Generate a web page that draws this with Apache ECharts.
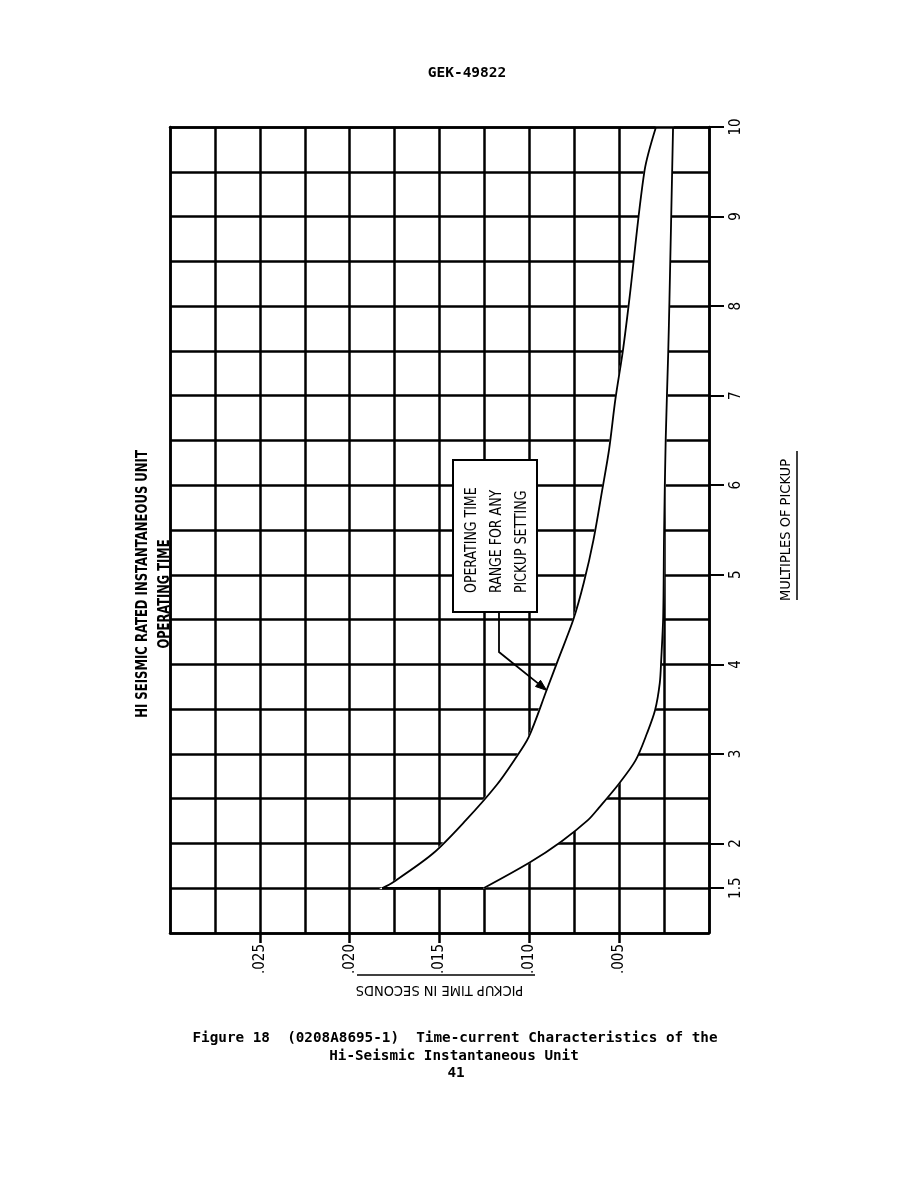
<!DOCTYPE html>
<html>
<head>
<meta charset="utf-8">
<title>GEK-49822 Figure 18</title>
<script src="https://cdn.jsdelivr.net/npm/echarts@6/dist/echarts.min.js"></script>
<style>
  html, body { margin: 0; padding: 0; background: #fff; }
  #chart { width: 918px; height: 1188px; }
</style>
</head>
<body>
<div id="chart"></div>
<script>
// ---- data ----
// tick labels
const timeTicks = [0.005, 0.010, 0.015, 0.020, 0.025];
const multipleTicks = [1.5, 2, 3, 4, 5, 6, 7, 8, 9, 10];

// slow boundary (longest operating time) : seconds vs multiples of pickup
const maxTimeSec = [0.0182, 0.01756, 0.01535, 0.01353, 0.01183, 0.01084, 0.01003, 0.00904, 0.00840, 0.00755, 0.00697, 0.00643, 0.00594, 0.00556, 0.00521, 0.00478, 0.00443, 0.00359, 0.00295];
const maxTimeMultiple = [1.50, 1.57, 1.89, 2.26, 2.65, 2.93, 3.19, 3.71, 4.05, 4.50, 4.91, 5.39, 5.95, 6.40, 6.96, 7.52, 8.08, 9.51, 10.0];

// fast boundary (shortest operating time)
const minTimeSec = [0.01255, 0.00996, 0.00823, 0.00674, 0.00612, 0.00500, 0.00408, 0.00345, 0.00300, 0.00274, 0.00266, 0.00255, 0.00250, 0.00241, 0.00227, 0.00220, 0.00200];
const minTimeMultiple = [1.50, 1.79, 2.02, 2.26, 2.40, 2.67, 2.93, 3.23, 3.49, 3.79, 4.05, 4.53, 5.47, 6.51, 7.48, 8.08, 10.0];

const annotationLines = ['OPERATING TIME', 'RANGE FOR ANY', 'PICKUP SETTING'];
const arrowTargetIndex = 7; // point of the slow curve the arrow points to

// ---- chart ----
const NARROW = '"Liberation Sans Narrow", "DejaVu Sans Condensed", "Arial Narrow", sans-serif';
const MONO = '"DejaVu Sans Mono", "Liberation Mono", monospace';
const SMOOTH = 0.3;
const GRID_W = 2.5;

const maxPairs = maxTimeSec.map((t, i) => [t, maxTimeMultiple[i]]);
const minPairs = minTimeSec.map((t, i) => [t, minTimeMultiple[i]]);

const chart = echarts.init(document.getElementById('chart'), null, { renderer: 'canvas' });

const black = '#000';
const axisLineStyle = { color: black, width: GRID_W };

const option = {
  animation: false,
  backgroundColor: '#fff',
  grid: { left: 170, right: 209, top: 127, bottom: 255, show: false, outerBoundsMode: 'none' },
  xAxis: [
    { // grid columns every .0025 s
      type: 'value', position: 'bottom', min: 0, max: 0.030, interval: 0.0025, inverse: true,
      axisLine: { show: true, onZero: false, lineStyle: axisLineStyle },
      axisTick: { show: false }, axisLabel: { show: false },
      splitLine: { show: true, lineStyle: { color: black, width: GRID_W } }
    },
    { // labelled ticks
      type: 'value', position: 'bottom', min: 0, max: 0.030, inverse: true,
      axisLine: { show: false, onZero: false },
      axisTick: { show: true, customValues: timeTicks, length: 10, inside: false, lineStyle: { color: black, width: GRID_W } },
      axisLabel: {
        show: true, customValues: timeTicks, rotate: 90, margin: 11,
        formatter: v => v.toFixed(3).replace(/^0/, ''),
        fontFamily: NARROW, fontSize: 15, color: black
      },
      splitLine: { show: false },
      name: 'PICKUP TIME IN SECONDS', nameLocation: 'middle', nameRotate: 180, nameGap: 37,
      nameTextStyle: { fontFamily: NARROW, fontSize: 14.5, color: black }
    },
    { // top border above the white band
      type: 'value', position: 'top', min: 0, max: 0.030, inverse: true, z: 10,
      axisLine: { show: true, onZero: false, lineStyle: axisLineStyle },
      axisTick: { show: false }, axisLabel: { show: false }, splitLine: { show: false }
    }
  ],
  yAxis: [
    {
      type: 'value', position: 'left', min: 1, max: 10, interval: 0.5,
      axisLine: { show: true, onZero: false, lineStyle: axisLineStyle },
      axisTick: { show: false }, axisLabel: { show: false },
      splitLine: { show: true, lineStyle: { color: black, width: GRID_W } }
    },
    {
      type: 'value', position: 'right', min: 1, max: 10, interval: 0.5, z: 10,
      axisLine: { show: true, onZero: false, lineStyle: axisLineStyle },
      axisTick: { show: true, customValues: multipleTicks, length: 15, inside: false, lineStyle: { color: black, width: 2 } },
      axisLabel: {
        show: true, customValues: multipleTicks, rotate: 90, margin: 20,
        formatter: v => String(v),
        fontFamily: NARROW, fontSize: 15, color: black
      },
      splitLine: { show: false },
      name: 'MULTIPLES OF PICKUP', nameLocation: 'middle', nameRotate: 90, nameGap: 70,
      nameTextStyle: { fontFamily: NARROW, fontSize: 14.5, color: black }
    }
  ],
  series: [
    {
      name: 'range', type: 'custom', xAxisIndex: 0, yAxisIndex: 0, z: 2, silent: true,
      data: [0],
      renderItem: function (params, api) {
        const pts = [];
        for (let i = 0; i < maxPairs.length; i++) pts.push(api.coord(maxPairs[i]));
        for (let i = minPairs.length - 1; i >= 0; i--) pts.push(api.coord(minPairs[i]));
        return {
          type: 'polygon',
          shape: { points: pts, smooth: 0 },
          style: { fill: '#fff', stroke: '#fff', lineWidth: 1.5 }
        };
      }
    },
    {
      name: 'slowest', type: 'line', xAxisIndex: 0, yAxisIndex: 0, z: 3,
      data: maxPairs, smooth: SMOOTH, showSymbol: false, symbol: 'none', silent: true,
      lineStyle: { color: black, width: 1.8 }
    },
    {
      name: 'fastest', type: 'line', xAxisIndex: 0, yAxisIndex: 0, z: 3,
      data: minPairs, smooth: SMOOTH, showSymbol: false, symbol: 'none', silent: true,
      lineStyle: { color: black, width: 1.8 }
    },
    {
      name: 'base', type: 'line', xAxisIndex: 0, yAxisIndex: 0, z: 3,
      data: [maxPairs[0], minPairs[0]], showSymbol: false, symbol: 'none', silent: true,
      lineStyle: { color: black, width: GRID_W }
    }
  ]
};

chart.setOption(option);

// ---- page text and annotation ----
const tip = chart.convertToPixel({ xAxisIndex: 0, yAxisIndex: 0 }, maxPairs[arrowTargetIndex]);
const box = { x: 453, y: 460, w: 84, h: 152 };
const bend = [499, 652];
const start = [499, box.y + box.h];
const ang = Math.atan2(tip[1] - bend[1], tip[0] - bend[0]);
const ah = 11, aw = 4;
const headBase = [tip[0] - ah * Math.cos(ang), tip[1] - ah * Math.sin(ang)];
const head = [
  tip,
  [headBase[0] + aw * Math.sin(ang), headBase[1] - aw * Math.cos(ang)],
  [headBase[0] - aw * Math.sin(ang), headBase[1] + aw * Math.cos(ang)]
];

function txt(text, x, y, font, rot, align, sx) {
  return {
    type: 'text', x: x, y: y, rotation: rot || 0, scaleX: sx || 1, z: 100,
    style: { text: text, font: font, fill: black, align: align || 'center', verticalAlign: 'middle' }
  };
}

const graphics = [
  txt('GEK-49822', 467, 73, 'bold 14.5px ' + MONO),
  txt('HI SEISMIC RATED INSTANTANEOUS UNIT', 143, 584, 'bold 16px ' + NARROW, Math.PI / 2, 'center', 0.81),
  txt('OPERATING TIME', 165, 594, 'bold 15px ' + NARROW, Math.PI / 2, 'center', 0.85),
  { type: 'line', z: 100, shape: { x1: 797, y1: 451, x2: 797, y2: 600 }, style: { stroke: black, lineWidth: 1.5 } },
  { type: 'line', z: 100, shape: { x1: 357, y1: 975, x2: 535, y2: 975 }, style: { stroke: black, lineWidth: 1.5 } },
  { type: 'rect', z: 100, shape: { x: box.x, y: box.y, width: box.w, height: box.h }, style: { fill: '#fff', stroke: black, lineWidth: 2 } },
  { type: 'polyline', z: 100, shape: { points: [start, bend, headBase] }, style: { stroke: black, lineWidth: 1.8, fill: null } },
  { type: 'polygon', z: 100, shape: { points: head }, style: { fill: black, stroke: black, lineWidth: 1 } },
  txt('Figure 18  (0208A8695-1)  Time-current Characteristics of the', 455, 1038, 'bold 14.3px ' + MONO),
  txt('Hi-Seismic Instantaneous Unit', 454, 1056, 'bold 14.3px ' + MONO),
  txt('41', 456, 1073, 'bold 14.3px ' + MONO)
];
annotationLines.forEach((line, i) => {
  graphics.push(txt(line, 472 + i * 25, 593, '15px ' + NARROW, Math.PI / 2, 'left', 0.93));
});

chart.setOption({ graphic: graphics });
</script>
</body>
</html>
